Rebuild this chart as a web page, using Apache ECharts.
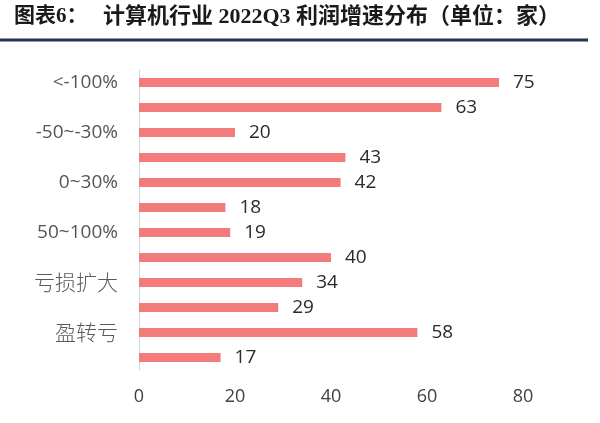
<!DOCTYPE html>
<html><head><meta charset="utf-8">
<script src="https://cdn.jsdelivr.net/npm/echarts@6/dist/echarts.min.js"></script>
<style>html,body{margin:0;padding:0;background:#fff}#c{width:600px;height:423px}</style>
</head><body><div id="c"></div>
<script>
const categories = ["<-100%", "-100~-50%", "-50~-30%", "-30~0%", "0~30%", "30~50%", "50~100%", ">100%", "亏损扩大", "亏损收窄", "盈转亏", "扭亏"];
const values = [75, 63, 20, 43, 42, 18, 19, 40, 34, 29, 58, 17];
const xTicks = [0, 20, 40, 60, 80];
const titleLabel = "图表6：";
const titleText = "计算机行业 2022Q3 利润增速分布（单位：家）";

const chart = echarts.init(document.getElementById('c'));
chart.setOption({
  animation: false,
  backgroundColor: '#fff',
  graphic: [
    {type: 'text', left: 14, top: 6, style: {text: titleLabel, font: "bold 21px 'Liberation Serif','Noto Sans CJK SC'", fill: '#1a1a1a'}},
    {type: 'text', left: 103, top: 6, style: {text: titleText, font: "bold 22px 'Liberation Serif','Noto Sans CJK SC'", fill: '#1a1a1a'}},
    {type: 'line', shape: {x1: 0, y1: 40, x2: 588, y2: 40}, style: {stroke: '#1e3550', lineWidth: 3}}
  ],
  grid: {left: 139, right: 77, top: 70, bottom: 53},
  xAxis: {
    type: 'value', min: xTicks[0], max: xTicks[xTicks.length - 1], interval: 20,
    axisLine: {show: false}, axisTick: {show: false}, splitLine: {show: false},
    axisLabel: {color: '#404040', fontSize: 18, margin: 18, fontFamily: "'Open Sans','Noto Sans CJK SC'"}
  },
  yAxis: {
    type: 'category', data: categories, inverse: true,
    axisLine: {show: true, lineStyle: {color: '#c9d6e0', width: 1}},
    axisTick: {show: false},
    axisLabel: {
      interval: 1, margin: 21,
      formatter: function (v) { return /[\u4e00-\u9fff]/.test(v) ? '{cn|' + v + '}' : '{en|' + v + '}'; },
      rich: {
        en: {color: '#555', fontSize: 19, fontFamily: "'Open Sans','Noto Sans CJK SC'"},
        cn: {color: '#5a5a5a', fontSize: 21, fontFamily: "'Noto Sans CJK SC'", fontWeight: 300}
      }
    }
  },
  series: [{
    type: 'bar', data: values, barWidth: 9,
    itemStyle: {color: '#f27b7b'},
    label: {show: true, position: 'right', distance: 14, color: '#2a2a2a', fontSize: 19, fontFamily: "'Open Sans','Noto Sans CJK SC'"}
  }]
});
</script></body></html>
